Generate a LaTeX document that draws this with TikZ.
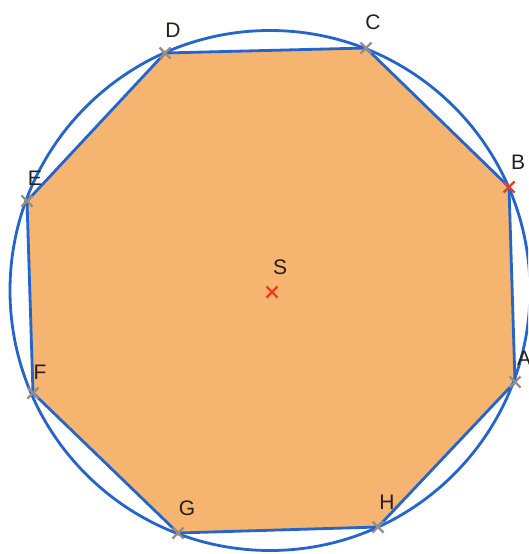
\documentclass[tikz,border=0pt]{standalone}
\usepackage{fontspec}
\setmainfont{Liberation Sans}
\definecolor{octfill}{RGB}{245,180,112}
\definecolor{lineblue}{RGB}{35,100,205}
\definecolor{markgray}{RGB}{150,140,135}
\definecolor{markred}{RGB}{238,60,30}
\definecolor{labelc}{RGB}{40,30,25}
\tikzset{
  edge/.style={draw=lineblue,line width=2.8pt,line join=round},
  crossmark/.style={line width=2.4pt},
  lbl/.style={font=\fontsize{21}{23}\selectfont,text=labelc,inner sep=0pt}
}
\newcommand{\xmark}[2]{\draw[crossmark,#2] ($(#1)+(-5.5,-5.5)$) -- ($(#1)+(5.5,5.5)$) ($(#1)+(-5.5,5.5)$) -- ($(#1)+(5.5,-5.5)$);}
\usetikzlibrary{calc}
\begin{document}
\begin{tikzpicture}[x=1pt,y=-1pt]
\useasboundingbox (0,0) rectangle (528,554);
\clip (0,0) rectangle (528,554);
\coordinate (O) at (270,290.5);
\coordinate (A) at (515,382);
\coordinate (B) at (509,187);
\coordinate (C) at (366,48);
\coordinate (D) at (165,53);
\coordinate (E) at (27,201);
\coordinate (F) at (33,393);
\coordinate (G) at (178,533);
\coordinate (H) at (378,527);
\coordinate (S) at (272,292);
\fill[octfill] (A) -- (B) -- (C) -- (D) -- (E) -- (F) -- (G) -- (H) -- cycle;
\draw[edge] (O) circle[radius=260];
\draw[edge] (A) -- (B) -- (C) -- (D) -- (E) -- (F) -- (G) -- (H) -- cycle;
\xmark{A}{markgray}
\xmark{C}{markgray}
\xmark{D}{markgray}
\xmark{E}{markgray}
\xmark{F}{markgray}
\xmark{G}{markgray}
\xmark{H}{markgray}
\xmark{B}{markred}
\xmark{S}{markred}
\node[lbl] (lA) at (524,358) {A};
\node[lbl] (lB) at (518,162) {B};
\node[lbl] (lC) at (373,22) {C};
\node[lbl] (lD) at (173,30) {D};
\node[lbl] (lE) at (35,178) {E};
\node[lbl] (lF) at (40,372) {F};
\node[lbl] (lG) at (187,508) {G};
\node[lbl] (lH) at (387,502) {H};
\node[lbl] (lS) at (280,267) {S};
\end{tikzpicture}
\end{document}
